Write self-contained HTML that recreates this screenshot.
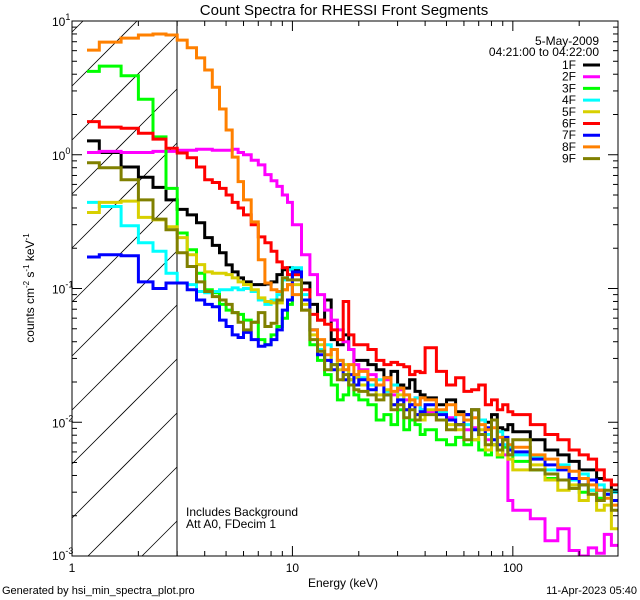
<!DOCTYPE html>
<html><head><meta charset="utf-8"><style>
html,body{margin:0;padding:0;background:#fff;width:640px;height:600px;overflow:hidden;}
svg{display:block;font-family:"Liberation Sans",sans-serif;overflow:hidden;}
</style></head><body>
<svg id="chart" width="640" height="600" viewBox="0 0 640 600" xmlns="http://www.w3.org/2000/svg">
<rect x="0" y="0" width="640" height="600" fill="#fff"/>
<text x="344" y="15" font-size="15" text-anchor="middle">Count Spectra for RHESSI Front Segments</text>
<defs><clipPath id="plotclip"><rect x="72" y="21" width="546" height="535"/></clipPath></defs>
<g id="hatch"></g>
<line x1="177" y1="21" x2="177" y2="556" stroke="#000" stroke-width="1"/>
<g id="series" clip-path="url(#plotclip)"></g>
<rect x="72" y="21" width="546" height="535" fill="none" stroke="#000" stroke-width="1"/>
<g id="ticks"></g>
<g id="labels" font-size="12"></g>
<text transform="translate(34,288) rotate(-90)" font-size="12" text-anchor="middle">counts cm<tspan font-size="8" dy="-5">-2</tspan><tspan dy="5"> s</tspan><tspan font-size="8" dy="-5">-1</tspan><tspan dy="5"> keV</tspan><tspan font-size="8" dy="-5">-1</tspan></text>
<text x="343" y="587" font-size="12" text-anchor="middle">Energy (keV)</text>
<text x="186" y="516" font-size="12">Includes Background</text>
<text x="186" y="528" font-size="12">Att A0, FDecim 1</text>
<text x="599" y="45" font-size="12" text-anchor="end">5-May-2009</text>
<text x="599" y="56" font-size="12" text-anchor="end">04:21:00 to 04:22:00</text>
<g id="legend" font-size="12"></g>
<text x="2" y="594" font-size="11">Generated by hsi_min_spectra_plot.pro</text>
<text x="637" y="594" font-size="11" text-anchor="end">11-Apr-2023 05:40</text>
</svg>
<script>
const energyEdges = [1.17,1.33,1.67,2,2.33,2.67,3,3.33,3.67,4,4.33,4.67,5,5.33,5.67,6,6.5,7,7.5,8,8.5,9,9.5,10,11,12,13,14,15,16,17,18,19,20,22,24,26,28,30,32,34,36,38,40,45,50,55,60,65,70,75,80,85,90,95,100,120,140,160,180,200,220,240,260,280,300];
const seriesNames = ["1F","2F","3F","4F","5F","6F","7F","8F","9F"];
const seriesColors = ["#000000","#ff00ff","#00ff00","#00ffff","#d8d000","#ff0000","#0000ff","#ff8000","#808000"];
const flux1F = [1.27,1.04,0.81,0.68,0.57,0.46,0.39,0.355,0.31,0.24,0.21,0.185,0.15,0.133,0.12,0.112,0.107,0.107,0.108,0.112,0.127,0.138,0.143,0.138,0.11,0.076,0.058,0.082,0.0415,0.038,0.045,0.035,0.029,0.029,0.027,0.0247,0.0215,0.024,0.019,0.018,0.0208,0.017,0.016,0.0152,0.0135,0.0147,0.012,0.0114,0.0124,0.0104,0.010,0.0114,0.0091,0.0088,0.0096,0.0085,0.0074,0.0062,0.0057,0.0051,0.0044,0.0044,0.0038,0.0037,0.0031];
const flux2F = [1.04,1.06,1.04,1.04,1.06,1.06,1.08,1.08,1.1,1.1,1.08,1.08,1.08,1.1,1.04,1.0,0.91,0.84,0.71,0.64,0.58,0.5,0.44,0.3,0.179,0.127,0.09,0.069,0.058,0.049,0.04,0.035,0.027,0.0247,0.0227,0.019,0.0208,0.016,0.0175,0.0147,0.0135,0.0152,0.0124,0.012,0.0104,0.0108,0.0096,0.0088,0.0091,0.0081,0.0074,0.0068,0.0062,0.0057,0.0026,0.0022,0.0019,0.0013,0.0016,0.0011,0.001,0.00115,0.00105,0.00145,0.0012];
const flux3F = [4.2,4.6,3.9,2.6,1.36,0.56,0.26,0.195,0.13,0.098,0.093,0.076,0.069,0.066,0.064,0.058,0.056,0.0415,0.038,0.045,0.052,0.06,0.076,0.127,0.082,0.038,0.029,0.0227,0.019,0.0147,0.016,0.0208,0.016,0.0147,0.0135,0.0104,0.0114,0.0096,0.0124,0.0088,0.0104,0.0096,0.0081,0.0088,0.0074,0.0068,0.0077,0.0068,0.0074,0.0062,0.0057,0.0068,0.0055,0.0065,0.0057,0.0051,0.0044,0.0038,0.0037,0.0032,0.003,0.0031,0.0027,0.0029,0.0026];
const flux4F = [0.44,0.41,0.295,0.22,0.19,0.13,0.11,0.107,0.095,0.093,0.095,0.098,0.098,0.101,0.098,0.1,0.095,0.082,0.076,0.082,0.09,0.116,0.138,0.143,0.09,0.049,0.035,0.038,0.027,0.029,0.0247,0.0208,0.0227,0.0215,0.019,0.0208,0.017,0.019,0.0147,0.016,0.0135,0.0152,0.0124,0.0135,0.012,0.0104,0.0114,0.0096,0.0088,0.0104,0.0081,0.0074,0.0085,0.0068,0.0065,0.0057,0.0055,0.0044,0.0048,0.0037,0.0041,0.0031,0.0034,0.0029,0.003];
const flux5F = [0.37,0.44,0.45,0.34,0.326,0.29,0.24,0.179,0.151,0.133,0.13,0.13,0.127,0.12,0.112,0.107,0.098,0.085,0.08,0.078,0.078,0.098,0.107,0.107,0.076,0.045,0.038,0.029,0.035,0.0247,0.027,0.0208,0.0215,0.019,0.0208,0.016,0.0175,0.0135,0.016,0.0124,0.0147,0.0114,0.0104,0.0124,0.0104,0.0096,0.0088,0.0104,0.0074,0.0088,0.0062,0.0068,0.0057,0.0074,0.0053,0.0044,0.0048,0.0037,0.0031,0.0034,0.0026,0.0029,0.0022,0.0024,0.0016];
const flux6F = [1.77,1.61,1.58,1.45,1.31,1.12,1.03,0.95,0.81,0.65,0.62,0.56,0.5,0.44,0.4,0.355,0.3,0.243,0.22,0.19,0.158,0.143,0.127,0.127,0.098,0.064,0.058,0.054,0.049,0.0415,0.08,0.045,0.038,0.038,0.035,0.029,0.027,0.028,0.027,0.026,0.0227,0.024,0.0235,0.036,0.024,0.019,0.0215,0.017,0.0175,0.019,0.0135,0.0147,0.0124,0.0135,0.012,0.0114,0.0096,0.0081,0.0074,0.0062,0.0057,0.0053,0.0044,0.0037,0.0034];
const flux7F = [0.172,0.179,0.176,0.112,0.1,0.11,0.11,0.098,0.082,0.076,0.073,0.058,0.052,0.045,0.043,0.047,0.0415,0.037,0.038,0.0415,0.049,0.069,0.082,0.133,0.082,0.049,0.032,0.029,0.0247,0.027,0.0208,0.0227,0.019,0.0208,0.0175,0.019,0.016,0.0135,0.0147,0.0124,0.0135,0.0114,0.012,0.0135,0.0114,0.0104,0.0096,0.0114,0.0088,0.0081,0.0091,0.0074,0.0068,0.0077,0.0062,0.006,0.0053,0.0048,0.0044,0.0038,0.0034,0.0037,0.0031,0.0029,0.0026];
const flux8F = [6.06,6.95,7.45,7.86,8.0,7.86,7.2,6.3,5.3,4.3,3.2,2.2,1.53,0.96,0.63,0.46,0.315,0.164,0.11,0.098,0.095,0.098,0.107,0.09,0.069,0.049,0.0415,0.032,0.035,0.029,0.0247,0.027,0.0227,0.024,0.0208,0.019,0.0215,0.017,0.018,0.016,0.0147,0.0135,0.0152,0.0147,0.0124,0.0135,0.0114,0.0104,0.0108,0.0096,0.0088,0.0091,0.0077,0.0074,0.0068,0.0065,0.0057,0.0053,0.0046,0.0043,0.0038,0.0034,0.0031,0.0027,0.0024];
const flux9F = [0.87,0.8,0.65,0.46,0.33,0.275,0.185,0.146,0.112,0.095,0.087,0.082,0.076,0.066,0.056,0.049,0.056,0.066,0.052,0.055,0.082,0.12,0.116,0.116,0.069,0.0415,0.034,0.0247,0.027,0.0208,0.0227,0.019,0.0175,0.017,0.016,0.0147,0.016,0.0124,0.0135,0.0108,0.0124,0.0104,0.0114,0.0114,0.0104,0.0088,0.0096,0.0074,0.0124,0.0081,0.0068,0.0104,0.0062,0.0074,0.0057,0.0074,0.0044,0.0041,0.0037,0.0032,0.0034,0.0029,0.0026,0.0031,0.0022];
const allFlux = [flux1F,flux2F,flux3F,flux4F,flux5F,flux6F,flux7F,flux8F,flux9F];
const xMinorTicks = [2,3,4,5,6,7,8,9,20,30,40,50,60,70,80,90,200,300];
const xMajorTicks = [1,10,100];
const xTickLabels = ["1","10","100"];
const yMajorExps = [-3,-2,-1,0,1];

const NS="http://www.w3.org/2000/svg";
const PL=72,PR=618,PT=21,PB=556;
const XMIN=Math.log10(1),XMAX=Math.log10(300),YMIN=-3,YMAX=1;
function xs(e){return PL+(Math.log10(e)-XMIN)/(XMAX-XMIN)*(PR-PL);}
function ys(v){return PB-(Math.log10(v)-YMIN)/(YMAX-YMIN)*(PB-PT);}
function mk(tag,attrs,parent){const el=document.createElementNS(NS,tag);for(const k in attrs)el.setAttribute(k,attrs[k]);parent.appendChild(el);return el;}

// hatching (lines y = c - (x-72), clipped manually to x 72..177, y 21..556)
const hatch=document.getElementById('hatch');
const HX0=72,HX1=177;
for(let k=-2;k<12;k++){const c=86+54*k;
  // x range where y within [PT,PB]
  let xa=Math.max(HX0, HX0+(c-PB)), xb=Math.min(HX1, HX0+(c-PT));
  if(xb<=xa) continue;
  const ln=mk('line',{x1:xa,y1:c-(xa-HX0),x2:xb,y2:c-(xb-HX0),stroke:'#000','stroke-width':0.8},hatch);
  
  
}

// series
const sg=document.getElementById('series');
allFlux.forEach((vals,si)=>{
  let d=`M${xs(energyEdges[0]).toFixed(1)},${ys(vals[0]).toFixed(1)} H${xs(energyEdges[1]).toFixed(1)}`;
  for(let i=1;i<vals.length;i++){d+=` V${ys(vals[i]).toFixed(1)} H${xs(energyEdges[i+1]).toFixed(1)}`;}
  const p=mk('path',{d:d,fill:'none',stroke:seriesColors[si],'stroke-width':3,'stroke-linejoin':'miter'},sg);
  
  
});

// ticks
const tg=document.getElementById('ticks');
function tick(x1,y1,x2,y2,name){const t=mk('line',{x1,y1,x2,y2,stroke:'#000','stroke-width':1},tg);
  
  }
xMinorTicks.forEach(e=>{const x=xs(e);tick(x,PB,x,PB-5,'x-minor-tick');tick(x,PT,x,PT+5,'x-minor-tick');});
xMajorTicks.forEach(e=>{const x=xs(e);tick(x,PB,x,PB-10,'x-major-tick');tick(x,PT,x,PT+10,'x-major-tick');});
yMajorExps.forEach(p=>{const y=ys(Math.pow(10,p));tick(PL,y,PL+10,y,'y-major-tick');tick(PR,y,PR-10,y,'y-major-tick');
  if(p<YMAX){for(let m=2;m<=9;m++){const yy=ys(m*Math.pow(10,p));tick(PL,yy,PL+5,yy,'y-minor-tick');tick(PR,yy,PR-5,yy,'y-minor-tick');}}});

// labels
const lg=document.getElementById('labels');
xMajorTicks.forEach((e,i)=>{const t=mk('text',{x:xs(e),y:572,'text-anchor':'middle'},lg);t.textContent=xTickLabels[i];
  
  });
yMajorExps.forEach(p=>{const y=ys(Math.pow(10,p));
  const t=mk('text',{x:52,y:Math.min(y+5,560)},lg);
  
  
  t.appendChild(document.createTextNode('10'));
  const s=mk('tspan',{'font-size':9,dy:-6},t);s.textContent=String(p);});

// legend
const leg=document.getElementById('legend');
seriesNames.forEach((n,i)=>{const y=65+i*11.7;
  const t=mk('text',{x:576,y:y+4,'text-anchor':'end'},leg);t.textContent=n;
  
  
  const l=mk('line',{x1:583,y1:y,x2:600,y2:y,stroke:seriesColors[i],'stroke-width':3},leg);
  
  });
</script>
</body></html>
